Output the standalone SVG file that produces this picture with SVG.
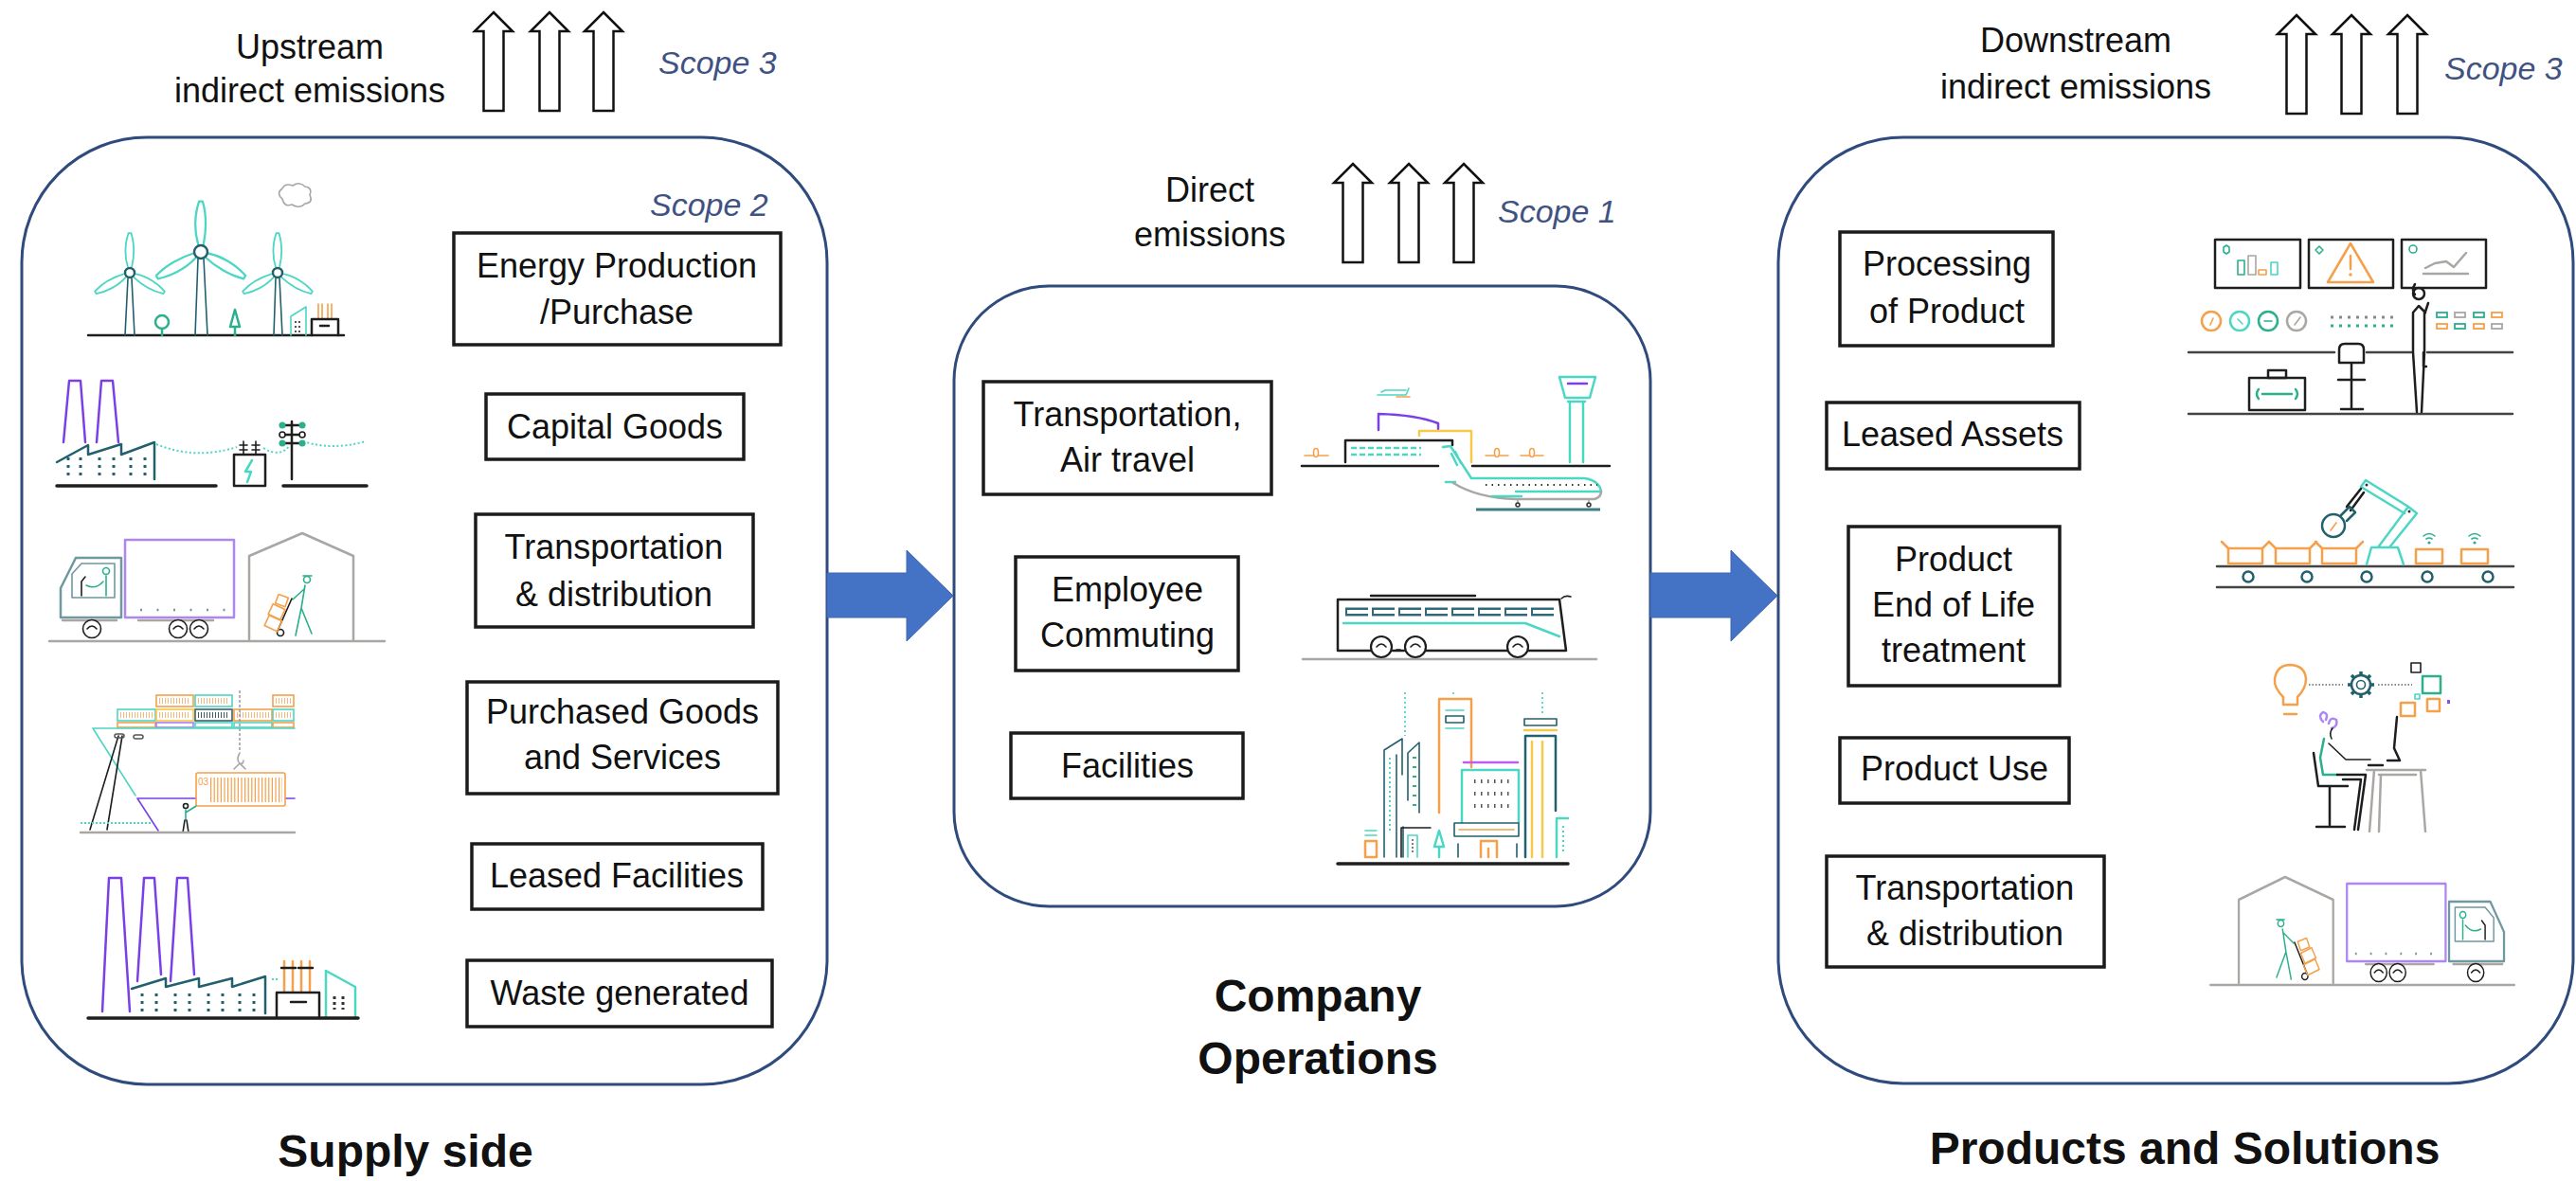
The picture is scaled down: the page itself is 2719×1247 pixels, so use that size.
<svg xmlns="http://www.w3.org/2000/svg" xmlns:xlink="http://www.w3.org/1999/xlink" width="2719" height="1247" viewBox="0 0 2719 1247">
  <style>
    .panel{fill:#fff;stroke:#2F4B7E;stroke-width:3}
    .box{fill:#fff;stroke:#1b1b1b;stroke-width:3.5}
    .lbl{font-family:"Liberation Sans",Arial,sans-serif;font-size:36px;fill:#111;text-anchor:middle}
    .scope{font-family:"Liberation Sans",Arial,sans-serif;font-size:34px;font-style:italic;fill:#3F5282}
    .title{font-family:"Liberation Sans",Arial,sans-serif;font-size:48px;font-weight:bold;fill:#111;text-anchor:middle}
    .up{fill:#fff;stroke:#111;stroke-width:2.5;stroke-linejoin:miter}
    .flow{fill:#4472C4;stroke:#3C66B4;stroke-width:1}
    .s{fill:none;stroke-linecap:round;stroke-linejoin:round;stroke-width:2.5}
    .te{stroke:#4CD6C4}
    .gr{stroke:#2BAF8C}
    .pe{stroke:#22606E}
    .pu{stroke:#7B3FE6}
    .lv{stroke:#AE86F2}
    .or{stroke:#F5A04A}
    .ye{stroke:#F6C94A}
    .gy{stroke:#A9A6A3}
    .bk{stroke:#1e1e1e}
    .cb{stroke:#6F98A0}
    .th{stroke-width:1.6}
    .tk{stroke-width:3.5}
    .ns{vector-effect:non-scaling-stroke}
  </style>
  <defs>
    <!-- hollow emission arrow, tip at origin -->
    <path id="uparrow" d="M0,0 L20,20 L10.5,20 L10.5,104 L-10.5,104 L-10.5,20 L-20,20 Z"/>
    <!-- turbine blade pointing up from the hub -->
    <path id="blade" d="M-3,-9 C-8,-24 -7,-44 -2,-58 L2,-58 C7,-42 6,-22 3,-9"/>
    <!-- truck and warehouse delivery scene -->
    <g id="delivery">
      <path class="s gy" d="M52,677 H406"/>
      <path class="s cb" d="M64,652 V621 L80,589 H128 V652 Z"/>
      <path class="s cb th" d="M76,631 V606 L86,595 H121 V631 Z"/>
      <circle class="s gr th" cx="112" cy="603" r="3.5"/>
      <path class="s gr th" d="M91,618 Q101,623 109,614 M112,608 V629"/>
      <path class="s bk th" d="M86,629 V614 L90,609"/>
      <rect class="s lv" x="132" y="570" width="115" height="82" stroke-width="2"/>
      <path d="M148,644 H240" stroke="#6F98A0" stroke-width="2.5" stroke-dasharray="2 15.5"/>
      <path class="s gy" d="M66,655 H123 M146,655 H225"/>
      <g class="s bk th" fill="#fff">
        <circle cx="97" cy="664" r="9.5" fill="#fff"/>
        <circle cx="188" cy="664" r="9.5" fill="#fff"/>
        <circle cx="210" cy="664" r="9.5" fill="#fff"/>
        <path d="M92,664 Q97,658 102,664 M183,664 Q188,658 193,664 M205,664 Q210,658 215,664" fill="none"/>
      </g>
      <path class="s gy" stroke-width="2" d="M263,675 V587 L319,563 L373,587 V675"/>
      <circle class="s gr th" cx="324" cy="612" r="3.5"/>
      <path class="s gr th" d="M320,608 H329 M322,618 L318,642 L312,671 M318,642 L329,669 M321,622 L309,633"/>
      <path class="s bk th" d="M308,632 L293,666"/>
      <circle class="s bk th" cx="296" cy="668" r="3.5"/>
      <g class="s or th">
        <rect x="292" y="629" width="11" height="10" transform="rotate(20 297 634)"/>
        <rect x="285" y="640" width="14" height="12" transform="rotate(25 292 646)"/>
        <rect x="281" y="652" width="15" height="12" transform="rotate(25 288 658)"/>
      </g>
    </g>
  </defs>

  <!-- ===== Emission labels and arrows ===== -->
  <g id="upstream-emissions">
    <text class="lbl" x="327" y="62">Upstream</text>
    <text class="lbl" x="327" y="108">indirect emissions</text>
    <use href="#uparrow" x="521" y="13" class="up"/>
    <use href="#uparrow" x="580" y="13" class="up"/>
    <use href="#uparrow" x="637" y="13" class="up"/>
    <text class="scope" x="695" y="78">Scope 3</text>
  </g>
  <g id="direct-emissions">
    <text class="lbl" x="1277" y="213">Direct</text>
    <text class="lbl" x="1277" y="260">emissions</text>
    <use href="#uparrow" x="1428" y="173" class="up"/>
    <use href="#uparrow" x="1487" y="173" class="up"/>
    <use href="#uparrow" x="1545" y="173" class="up"/>
    <text class="scope" x="1581" y="235">Scope 1</text>
  </g>
  <g id="downstream-emissions">
    <text class="lbl" x="2191" y="55">Downstream</text>
    <text class="lbl" x="2191" y="104">indirect emissions</text>
    <use href="#uparrow" x="2424" y="16" class="up"/>
    <use href="#uparrow" x="2482" y="16" class="up"/>
    <use href="#uparrow" x="2541" y="16" class="up"/>
    <text class="scope" x="2580" y="84">Scope 3</text>
  </g>

  <!-- ===== Supply side ===== -->
  <g id="supply-side">
    <rect class="panel" x="23" y="145" width="850" height="1000" rx="132" ry="132"/>
    <text class="scope" x="686" y="228">Scope 2</text>
    <text class="title" x="428" y="1232">Supply side</text>
  </g>

  <g id="energy-production">
    <rect class="box" x="479" y="246" width="345" height="118"/>
    <text class="lbl" x="651" y="293">Energy Production</text>
    <text class="lbl" x="651" y="342">/Purchase</text>
    <!-- wind farm -->
    <path class="s bk" d="M93,354 H363"/>
    <path class="s pe th" d="M135,294 L132,354 M139,294 L142,354 M209,273 L206,354 M215,273 L219,354 M291,294 L289,354 M295,294 L298,354"/>
    <g class="s te">
      <g transform="translate(137,288) scale(0.72)"><use href="#blade" class="ns"/><use href="#blade" class="ns" transform="rotate(120)"/><use href="#blade" class="ns" transform="rotate(240)"/></g>
      <g transform="translate(212,266) scale(0.92)"><use href="#blade" class="ns"/><use href="#blade" class="ns" transform="rotate(120)"/><use href="#blade" class="ns" transform="rotate(240)"/></g>
      <g transform="translate(293,288) scale(0.72)"><use href="#blade" class="ns"/><use href="#blade" class="ns" transform="rotate(120)"/><use href="#blade" class="ns" transform="rotate(240)"/></g>
    </g>
    <g class="s pe" fill="#fff"><circle cx="137" cy="288" r="5" fill="#fff"/><circle cx="212" cy="266" r="7" fill="#fff"/><circle cx="293" cy="288" r="5" fill="#fff"/></g>
    <circle class="s gr" cx="171" cy="340" r="7"/>
    <path class="s gr" d="M171,347 V354 M248,327 L243,345 H253 Z M248,345 V354"/>
    <path class="s te th" d="M307,354 V334 L323,324 V354"/>
    <path d="M311,340 H318 M311,345 H318 M311,350 H318" stroke="#555" stroke-width="2" stroke-dasharray="2 2"/>
    <path class="s or th" d="M336,337 V321 M340,337 V321 M346,337 V321 M350,337 V321"/>
    <path class="s bk" d="M329,354 V337 H357 V354 M338,344 H347"/>
    <path class="s gy th" d="M298,210 Q291,204 298,199 Q301,193 309,196 Q316,191 322,197 Q330,198 327,206 Q331,214 322,215 Q316,221 308,216 Q300,219 298,210 Z"/>
  </g>

  <g id="capital-goods">
    <rect class="box" x="513" y="416" width="272" height="69"/>
    <text class="lbl" x="649" y="463">Capital Goods</text>
    <!-- factory with power line -->
    <path class="s pu" d="M67,467 L73,402 H85 L90,467 M102,467 L107,402 H119 L125,467"/>
    <path class="s pe" d="M60,488 L93,470 V480 L128,469 V480 L163,467 V506"/>
    <path d="M72,483 V507 M85,483 V507 M105,483 V507 M120,483 V507 M138,483 V507 M153,483 V507" stroke="#22606E" stroke-width="3" stroke-dasharray="3 5"/>
    <path class="s bk tk" d="M60,513 H228 M299,513 H387"/>
    <rect class="s bk" x="247" y="480" width="33" height="33" stroke-width="3"/>
    <path class="s te" d="M266,486 L259,498 H265 L261,509"/>
    <path class="s bk th" d="M257,466 V480 M270,466 V480 M253,470 H261 M253,475 H261 M266,470 H274 M266,475 H274"/>
    <path d="M165,469 Q206,486 250,472 M278,473 Q296,484 306,470 M320,466 Q350,476 386,466" fill="none" stroke="#4CD6C4" stroke-width="2" stroke-dasharray="2 2.5"/>
    <path class="s bk" d="M308,445 V506 M296,449 H321 M296,459 H321 M296,468 H321"/>
    <g fill="#2BAF8C"><circle cx="298" cy="449" r="3.5"/><circle cx="319" cy="449" r="3.5"/><circle cx="298" cy="468" r="3.5"/><circle cx="319" cy="468" r="3.5"/></g>
    <g fill="#fff" stroke="#1e1e1e" stroke-width="1.6"><circle cx="298" cy="459" r="3"/><circle cx="319" cy="459" r="3"/></g>
  </g>

  <g id="supply-transportation">
    <rect class="box" x="502" y="543" width="293" height="119"/>
    <text class="lbl" x="648" y="590">Transportation</text>
    <text class="lbl" x="648" y="640">&amp; distribution</text>
    <use href="#delivery"/>
  </g>

  <g id="purchased-goods">
    <rect class="box" x="493" y="720" width="328" height="118"/>
    <text class="lbl" x="657" y="764">Purchased Goods</text>
    <text class="lbl" x="657" y="812">and Services</text>
    <!-- container ship at the quay -->
    <g stroke-width="1.6" fill="#fff">
      <rect x="165" y="734" width="39" height="12" stroke="#F5A04A"/>
      <rect x="206" y="734" width="39" height="12" stroke="#4CD6C4"/>
      <rect x="288" y="734" width="22" height="12" stroke="#F5A04A"/>
      <rect x="124" y="749" width="40" height="12" stroke="#4CD6C4"/>
      <rect x="165" y="749" width="39" height="12" stroke="#F6C94A"/>
      <rect x="206" y="749" width="39" height="12" stroke="#3C5E69"/>
      <rect x="247" y="749" width="40" height="12" stroke="#F5A04A"/>
      <rect x="288" y="749" width="22" height="12" stroke="#4CD6C4"/>
      <rect x="124" y="763" width="40" height="5" stroke="#F5A04A"/>
      <rect x="165" y="763" width="39" height="5" stroke="#A97DF2"/>
      <rect x="206" y="763" width="39" height="5" stroke="#4CD6C4"/>
      <rect x="247" y="763" width="40" height="5" stroke="#4CD6C4"/>
      <rect x="288" y="763" width="22" height="5" stroke="#F5A04A"/>
    </g>
    <path d="M168,740 H201 M209,740 H242 M291,740 H308 M127,755 H161 M168,755 H201 M250,755 H284 M291,755 H308" stroke="#F5B77A" stroke-width="6" stroke-dasharray="1 2"/>
    <path d="M209,755 H242" stroke="#3C5E69" stroke-width="6" stroke-dasharray="1 2"/>
    <path class="s te th" d="M98,769 H311 M98,769 L143,840"/>
    <path class="s pu th" d="M145,843 H207 M145,843 L167,877 M301,843 H311"/>
    <path class="s bk th" d="M125,777 L95,876 M129,777 L113,876"/>
    <rect x="121" y="775" width="10" height="4" rx="2" fill="none" stroke="#555" stroke-width="1.5"/>
    <rect x="141" y="776" width="10" height="4" rx="2" fill="none" stroke="#555" stroke-width="1.5"/>
    <path d="M253,729 V794" stroke="#999" stroke-width="1.5" stroke-dasharray="3 2"/>
    <path class="s gy th" d="M253,795 Q249,802 253,806 Q257,807 257,803 M247,812 L253,806 L259,812"/>
    <rect class="s or th" x="207" y="816" width="94" height="35" rx="2"/>
    <path d="M222,834 H298" stroke="#F5A04A" stroke-width="26" stroke-dasharray="1.2 2.4"/>
    <text x="209" y="829" font-family="Liberation Sans, Arial, sans-serif" font-size="10" fill="#F5A04A">03</text>
    <path d="M85,869 H160" stroke="#4CD6C4" stroke-width="2" stroke-dasharray="2 2"/>
    <circle class="s bk th" cx="196" cy="851" r="2.5"/>
    <path class="s gr th" d="M196,855 V866 M196,858 L207,851"/>
    <path class="s bk th" d="M195,866 L193,879 M197,866 L199,879"/>
    <path class="s gy" d="M85,879 H311"/>
  </g>

  <g id="leased-facilities">
    <rect class="box" x="498" y="891" width="307" height="69"/>
    <text class="lbl" x="651" y="937">Leased Facilities</text>
  </g>

  <g id="waste-generated">
    <rect class="box" x="493" y="1014" width="322" height="70"/>
    <text class="lbl" x="654" y="1061">Waste generated</text>
    <!-- factory with stacks -->
    <path class="s pu" d="M108,1068 L115,927 H128 L137,1068 M145,1036 L152,927 H163 L170,1029 M180,1036 L187,927 H198 L205,1029"/>
    <path class="s pe" d="M139,1044 L175,1033 V1042 L210,1033 V1042 L245,1033 V1042 L280,1031 V1070"/>
    <path d="M150,1049 V1069 M165,1049 V1069 M185,1049 V1069 M200,1049 V1069 M220,1049 V1069 M235,1049 V1069 M253,1049 V1069 M268,1049 V1069" stroke="#22606E" stroke-width="3" stroke-dasharray="3 5"/>
    <path d="M287,1034 H294" stroke="#4CD6C4" stroke-width="2" stroke-dasharray="2 2"/>
    <path class="s or" d="M300,1048 V1015 M309,1048 V1015 M318,1048 V1015 M327,1048 V1015"/>
    <path class="s bk" d="M297,1022 H312 M315,1022 H330"/>
    <path class="s bk" d="M292,1074 V1048 H337 V1074 M307,1058 H323"/>
    <path class="s te" d="M344,1074 V1025 L375,1042 V1074"/>
    <path d="M353,1052 V1066 M362,1052 V1066" stroke="#333" stroke-width="3" stroke-dasharray="3 3"/>
    <path class="s bk tk" d="M93,1075 H378"/>
  </g>

  <!-- ===== Company operations ===== -->
  <g id="company-operations">
    <rect class="panel" x="1007" y="302" width="735" height="655" rx="100" ry="100"/>
    <text class="title" x="1391" y="1068">Company</text>
    <text class="title" x="1391" y="1134">Operations</text>
  </g>

  <g id="air-travel">
    <rect class="box" x="1038" y="403" width="304" height="119"/>
    <text class="lbl" x="1190" y="450">Transportation,</text>
    <text class="lbl" x="1190" y="498">Air travel</text>
    <!-- airport -->
    <path class="s bk" stroke="#444" stroke-width="3" d="M1374,492 H1518 M1554,492 H1699"/>
    <path class="s bk" stroke="#444" d="M1420,488 V465 H1533 V470"/>
    <path d="M1426,473 H1500 M1426,480 H1500" stroke="#4CD6C4" stroke-width="2.5" stroke-dasharray="6 3"/>
    <path class="s pu" d="M1455,454 V437 Q1495,438 1518,447 V453"/>
    <path class="s ye" d="M1498,460 V455 H1553 V488"/>
    <path class="s or th" d="M1377,481 H1402 M1568,481 H1592 M1605,481 H1629"/>
    <g fill="#fff" stroke="#F5A04A" stroke-width="1.6"><ellipse cx="1389" cy="478" rx="2.5" ry="4.5"/><ellipse cx="1580" cy="478" rx="2.5" ry="4.5"/><ellipse cx="1617" cy="478" rx="2.5" ry="4.5"/></g>
    <path class="s te" d="M1646,398 H1684 L1678,420 H1652 Z M1657,424 V488 M1671,424 V488 M1655,424 H1673"/>
    <path class="s pu" d="M1655,405 H1675"/>
    <path class="s te th" d="M1454,417 H1484 L1487,410 M1458,414 L1462,412 H1484"/>
    <path class="s or th" d="M1474,419 H1488"/>
    <path class="s te" d="M1523,472 L1531,471 L1553,505 H1672 Q1688,507 1690,519 H1600 M1526,509 H1536 M1532,479 L1538,491 M1536,477 L1542,489"/>
    <path class="s gy" d="M1534,510 Q1560,526 1600,527 H1683 Q1690,525 1690,519"/>
    <path class="s te" d="M1575,524 H1606"/>
    <path d="M1568,512 H1686" stroke="#333" stroke-width="2" stroke-dasharray="1.5 5"/>
    <path class="s gy th" d="M1602,527 V532 M1677,527 V532"/>
    <circle cx="1602" cy="533" r="2" fill="none" stroke="#333" stroke-width="1.5"/>
    <circle cx="1677" cy="533" r="2" fill="none" stroke="#333" stroke-width="1.5"/>
    <path stroke="#3E7D87" stroke-width="3" d="M1558,538 H1689"/>
  </g>

  <g id="employee-commuting">
    <rect class="box" x="1072" y="588" width="235" height="120"/>
    <text class="lbl" x="1190" y="635">Employee</text>
    <text class="lbl" x="1190" y="683">Commuting</text>
    <!-- bus -->
    <path class="s gy" d="M1375,696 H1685"/>
    <path class="s bk" d="M1447,629 H1557"/>
    <path class="s bk" d="M1447,687 H1412 V633 H1646 L1653,687 H1613 M1591,687 H1505 M1482,687 H1470"/>
    <path d="M1420,646 H1642" stroke="#2E6A78" stroke-width="9" stroke-dasharray="24 4" fill="none"/>
    <path d="M1421,646 H1641" stroke="#fff" stroke-width="4" stroke-dasharray="22 6" stroke-dashoffset="-1"/>
    <path class="s te" d="M1418,658 H1610 L1646,672"/>
    <path class="s bk th" d="M1648,632 Q1652,628 1658,630"/>
    <g fill="#fff" stroke="#1e1e1e" stroke-width="2.2">
      <circle cx="1458" cy="683" r="11"/><circle cx="1494" cy="683" r="11"/><circle cx="1602" cy="683" r="11"/>
    </g>
    <path class="s bk th" d="M1453,683 Q1458,677 1463,683 M1489,683 Q1494,677 1499,683 M1597,683 Q1602,677 1607,683 M1474,686 H1478"/>
  </g>

  <g id="facilities">
    <rect class="box" x="1067" y="774" width="245" height="69"/>
    <text class="lbl" x="1190" y="821">Facilities</text>
    <!-- city -->
    <path class="s bk tk" d="M1412,912 H1655"/>
    <path d="M1483,731 V777 M1534,731 V736 M1628,731 V756" stroke="#4CD6C4" stroke-width="1.8" stroke-dasharray="2 3"/>
    <path class="s pe th" d="M1461,905 V792 L1480,780 V818 M1474,905 V797 M1481,905 V873 M1486,845 V795 L1498,784 V858"/>
    <path d="M1467,800 V880" stroke="#4CD6C4" stroke-width="2" stroke-dasharray="2 3"/>
    <path d="M1491,800 H1495 M1491,810 H1495 M1491,820 H1495 M1491,830 H1495 M1491,840 H1495 M1491,850 H1495" stroke="#2BAF8C" stroke-width="2"/>
    <path class="s or" d="M1519,858 V738 H1553 V810"/>
    <path class="s te th" d="M1526,750 H1545 M1526,769 H1545"/>
    <rect class="s pe th" x="1526" y="756" width="19" height="7"/>
    <path class="s" stroke="#C05CF0" d="M1545,805 H1602"/>
    <path class="s te" d="M1543,868 V813 H1603 V868"/>
    <path d="M1556,825 H1596 M1556,838 H1596 M1556,851 H1596" stroke="#555" stroke-width="4" stroke-dasharray="1.5 5.5"/>
    <rect class="s pe th" x="1535" y="869" width="68" height="14"/>
    <path class="s or th" d="M1540,876 H1598"/>
    <path class="s or" d="M1563,905 V888 H1580 V905 M1571,896 V905"/>
    <path class="s pe th" d="M1539,905 V891 M1601,905 V891"/>
    <path class="s pe" d="M1610,905 V777 H1642 V856"/>
    <rect class="s pe th" x="1609" y="759" width="34" height="7"/>
    <path class="s ye" d="M1609,771 H1643 M1617,783 V905 M1628,783 V905"/>
    <path class="s te" d="M1643,905 V864 H1655"/>
    <path d="M1650,872 V900" stroke="#4CD6C4" stroke-width="2" stroke-dasharray="2 3"/>
    <path class="s or" d="M1441,905 V888 H1453 V905 Z"/>
    <path class="s te th" d="M1441,877 H1453 M1441,882 H1453"/>
    <path class="s bk th" d="M1479,905 V874 H1510"/>
    <path class="s te th" d="M1486,905 V882 H1496 V905"/>
    <path d="M1491,886 V902" stroke="#555" stroke-width="1.5" stroke-dasharray="2 2"/>
    <path class="s te" d="M1519,877 L1514,894 H1524 Z M1519,894 V905"/>
  </g>

  <!-- ===== Products and solutions ===== -->
  <g id="products-solutions">
    <rect class="panel" x="1877" y="145" width="839" height="999" rx="132" ry="132"/>
    <text class="title" x="2306" y="1229">Products and Solutions</text>
  </g>

  <g id="processing">
    <rect class="box" x="1942" y="245" width="225" height="120"/>
    <text class="lbl" x="2055" y="291">Processing</text>
    <text class="lbl" x="2055" y="341">of Product</text>
    <!-- control room -->
    <g class="s bk" stroke="#333"><rect x="2338" y="253" width="90" height="51"/><rect x="2437" y="253" width="89" height="51"/><rect x="2535" y="253" width="89" height="51"/></g>
    <path class="s gr th" d="M2347,261 L2350,259 L2353,261 V266 L2350,268 L2347,266 Z M2448,260 L2452,264 L2448,268 L2444,264 Z"/>
    <circle class="s gr th" cx="2547" cy="263" r="4"/>
    <g class="s th"><rect class="gr" x="2362" y="275" width="7" height="15"/><rect class="gy" x="2373" y="270" width="8" height="20"/><rect class="or" x="2384" y="285" width="8" height="5"/><rect class="te" x="2397" y="277" width="7" height="13"/></g>
    <path class="s or" d="M2481,257 L2505,298 H2457 Z M2481,270 V284"/>
    <circle cx="2481" cy="290" r="1.8" fill="#F5A04A"/>
    <path class="s gy" stroke="#8D8781" d="M2560,283 L2570,278 L2582,276 L2590,282 L2603,267 M2558,289 H2605"/>
    <g class="s"><circle class="or" cx="2334" cy="339" r="10"/><circle class="te" cx="2364" cy="339" r="10"/><circle class="gr" cx="2394" cy="339" r="10"/><circle class="gy" cx="2424" cy="339" r="10"/></g>
    <path class="s th" stroke="#F5A04A" d="M2333,343 L2336,336"/>
    <path class="s th" stroke="#4CD6C4" d="M2362,337 L2367,342"/>
    <path class="s th" stroke="#2BAF8C" d="M2390,339 H2398"/>
    <path class="s th" stroke="#A9A6A3" d="M2422,343 L2428,335"/>
    <path d="M2460,335 H2526" stroke="#8D8781" stroke-width="3" stroke-dasharray="3 6"/>
    <path d="M2460,344 H2526" stroke="#2BAF8C" stroke-width="3" stroke-dasharray="3 6"/>
    <g fill="none" stroke-width="1.8">
      <rect x="2572" y="330" width="11" height="5" stroke="#2BAF8C"/><rect x="2591" y="330" width="11" height="5" stroke="#A9A6A3"/><rect x="2611" y="330" width="11" height="5" stroke="#2BAF8C"/><rect x="2630" y="330" width="11" height="5" stroke="#F5A04A"/>
      <rect x="2572" y="342" width="11" height="5" stroke="#F5A04A"/><rect x="2591" y="342" width="11" height="5" stroke="#2BAF8C"/><rect x="2611" y="342" width="11" height="5" stroke="#F5A04A"/><rect x="2630" y="342" width="11" height="5" stroke="#A9A6A3"/>
    </g>
    <path class="s" stroke="#444" d="M2310,372 H2464 M2498,372 H2545 M2562,372 H2652 M2310,437 H2652"/>
    <path class="s bk" d="M2469,383 V369 Q2469,363 2475,363 H2489 Q2495,363 2495,369 V383 Z M2482,383 V431 M2468,401 H2496 M2471,432 H2494"/>
    <rect class="s bk" x="2374" y="399" width="59" height="34"/>
    <rect class="s bk" x="2394" y="391" width="19" height="8"/>
    <path class="s gr" d="M2388,416 H2419 M2384,411 Q2380,416 2384,421 M2423,411 Q2427,416 2423,421"/>
    <circle class="s bk" cx="2553" cy="310" r="6"/>
    <path class="s bk" d="M2549,300 Q2545,306 2549,311 M2547,330 L2553,323 L2560,330 M2547,330 V372 L2551,435 M2559,330 V372 L2556,435 M2559,332 L2563,320 M2558,372 V387 H2561"/>
  </g>

  <g id="leased-assets">
    <rect class="box" x="1928" y="425" width="267" height="70"/>
    <text class="lbl" x="2061" y="471">Leased Assets</text>
    <!-- assembly line with robot -->
    <path class="s" stroke="#444" d="M2340,598 H2653 M2340,620 H2653"/>
    <g class="s pe"><circle cx="2373" cy="609" r="5.5"/><circle cx="2435" cy="609" r="5.5"/><circle cx="2498" cy="609" r="5.5"/><circle cx="2562" cy="609" r="5.5"/><circle cx="2626" cy="609" r="5.5"/></g>
    <g class="s or">
      <path d="M2352,579 H2388 V595 H2352 Z M2352,579 L2345,572 M2388,579 L2395,572"/>
      <path d="M2402,579 H2438 V595 H2402 Z M2402,579 L2395,572 M2438,579 L2445,572"/>
      <path d="M2451,579 H2487 V595 H2451 Z M2451,579 L2444,572 M2487,579 L2494,572"/>
      <rect x="2550" y="580" width="28" height="15"/>
      <rect x="2598" y="580" width="28" height="15"/>
    </g>
    <path class="s gr th" d="M2558,566 Q2564,561 2570,566 M2561,569 Q2564,567 2567,569 M2606,566 Q2612,561 2618,566 M2609,569 Q2612,567 2615,569"/>
    <circle cx="2564" cy="573" r="1.6" fill="#2BAF8C"/>
    <circle cx="2612" cy="573" r="1.6" fill="#2BAF8C"/>
    <path class="s te" d="M2498,596 L2503,578 H2531 L2537,596 M2510,578 L2542,535 L2551,542 L2522,578 M2542,535 L2497,507 L2492,514 L2538,542"/>
    <circle cx="2498" cy="512" r="1.5" fill="#333"/>
    <circle cx="2543" cy="540" r="1.5" fill="#333"/>
    <path class="s bk" d="M2492,516 L2477,535 M2495,520 L2481,539"/>
    <circle class="s pe" cx="2463" cy="555" r="12"/>
    <path class="s pe" d="M2471,544 L2480,535 L2486,541 L2477,550"/>
    <path class="s or th" d="M2460,560 L2466,552"/>
  </g>

  <g id="end-of-life">
    <rect class="box" x="1951" y="556" width="223" height="168"/>
    <text class="lbl" x="2062" y="603">Product</text>
    <text class="lbl" x="2062" y="651">End of Life</text>
    <text class="lbl" x="2062" y="699">treatment</text>
    <!-- person at desk with idea -->
    <path class="s or" d="M2410,736 Q2400,726 2401,717 Q2403,702 2418,702 Q2433,703 2434,717 Q2434,727 2425,736 V744 H2410 Z M2411,754 H2424"/>
    <path d="M2437,723 H2473 M2510,723 H2546" stroke="#888" stroke-width="1.8" stroke-dasharray="1.5 2"/>
    <g transform="translate(2492,723)">
      <circle class="s pe" r="10"/>
      <circle class="s pe th" r="4.5"/>
      <path d="M0,-14 V-10 M0,10 V14 M-14,0 H-10 M10,0 H14 M-10,-10 L-7,-7 M7,7 L10,10 M10,-10 L7,-7 M-7,7 L-10,10" stroke="#22606E" stroke-width="3.5"/>
    </g>
    <rect class="s bk th" x="2545" y="700" width="10" height="10"/>
    <rect class="s gr" x="2557" y="714" width="19" height="18"/>
    <rect class="s te th" x="2549" y="733" width="5" height="5"/>
    <rect class="s or" x="2534" y="742" width="15" height="14"/>
    <rect class="s or" x="2562" y="738" width="13" height="13"/>
    <rect x="2583" y="739" width="3" height="4" fill="#8E4DF0"/>
    <path class="s lv" stroke="#8E4DF0" d="M2452,762 Q2446,756 2452,752 Q2458,753 2455,760 M2458,764 Q2460,756 2466,760 Q2468,767 2461,769"/>
    <path class="s bk th" d="M2462,769 Q2458,774 2461,780"/>
    <path class="s gr" d="M2453,780 L2449,800 L2452,818 H2467"/>
    <path class="s bk th" d="M2458,785 L2476,802 H2502"/>
    <path class="s bk" d="M2442,795 L2447,830 H2478 M2459,830 V871 M2445,873 H2475 M2467,818 H2497 L2489,876 M2473,823 H2492 L2485,876"/>
    <path class="s bk" d="M2530,757 L2527,790 L2533,803 H2520 M2500,808 H2515"/>
    <path class="s gy" d="M2498,813 H2560 M2506,813 L2501,878 M2555,813 L2560,878 M2513,818 L2511,878 M2511,818 H2550"/>
  </g>

  <g id="product-use">
    <rect class="box" x="1942" y="779" width="242" height="69"/>
    <text class="lbl" x="2063" y="824">Product Use</text>
  </g>

  <g id="downstream-transportation">
    <rect class="box" x="1928" y="904" width="293" height="117"/>
    <text class="lbl" x="2074" y="950">Transportation</text>
    <text class="lbl" x="2074" y="998">&amp; distribution</text>
    <use href="#delivery" transform="matrix(-0.906,0,0,1,2701,363)"/>
  </g>

  <!-- ===== Flow between stages ===== -->
  <g id="connectors">
    <path class="flow" d="M873,605 H957 V581 L1006,629 L957,677 V652 H873 Z"/>
    <path class="flow" d="M1742,605 H1827 V581 L1876,629 L1827,677 V652 H1742 Z"/>
  </g>
</svg>
